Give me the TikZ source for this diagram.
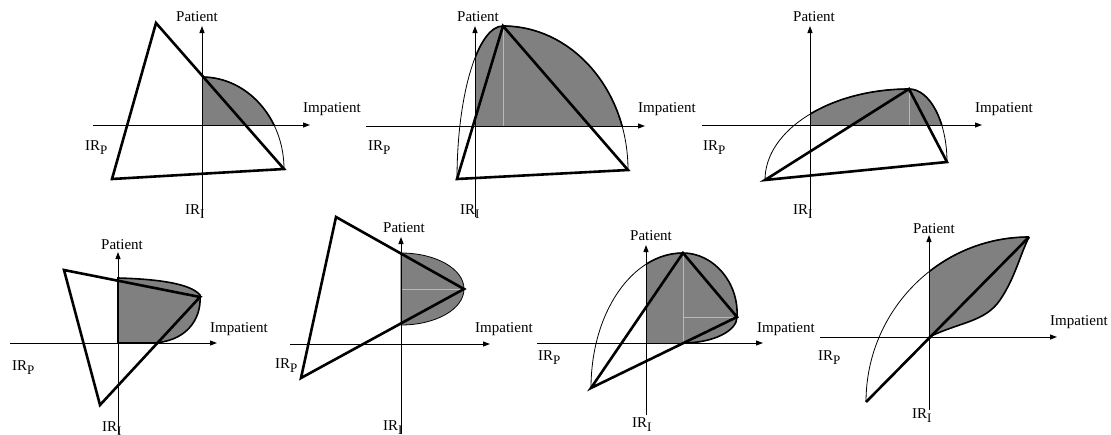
\documentclass[tikz,border=0pt]{standalone}
\usepackage{fontspec}
\setmainfont{Liberation Serif}
\usetikzlibrary{arrows.meta}
\definecolor{shadegray}{RGB}{128,128,128}
\definecolor{guidegray}{RGB}{185,185,185}
\newcommand{\IRsub}[1]{IR\raisebox{-0.3em}{\fontsize{13}{13}\selectfont #1}}
\tikzset{
  axisline/.style={line width=1pt,-{Triangle[length=7pt,width=5pt]}},
  triline/.style={line width=2.6pt,line join=miter},
  edgeline/.style={line width=1.6pt},
  thinline/.style={line width=0.8pt},
  region/.style={fill=shadegray},
  guide/.style={draw=guidegray,line width=0.9pt},
  lbl/.style={font=\fontsize{15}{18}\selectfont,inner sep=0pt}
}
\begin{document}
\begin{tikzpicture}[x=1pt,y=-1pt]
\useasboundingbox (0,0) rectangle (1111,434);

% ================= Panel 1 =================
\coordinate (o1) at (202,125);
\coordinate (x1a) at (93,125); \coordinate (x1b) at (310,125);
\coordinate (y1a) at (202,217); \coordinate (y1b) at (202,26);
\coordinate (t1a) at (156,23); \coordinate (t1b) at (112,179); \coordinate (t1c) at (284,169);
\coordinate (c1) at (202,77);
\begin{scope}
  \clip (o1) rectangle (420,0);
  \fill[region] (202,169) -- (c1) .. controls (247,77) and (284,118) .. (t1c) -- cycle;
  \draw[edgeline] (c1) .. controls (247,77) and (284,118) .. (t1c);
\end{scope}
\draw[thinline] (c1) .. controls (247,77) and (284,118) .. (t1c);
\draw[axisline] (x1a) -- (x1b);
\draw[axisline] (y1a) -- (y1b);
\draw[triline] (t1a) -- (t1b) -- (t1c) -- cycle;
\node[lbl,anchor=base] (p1) at (197,21) {Patient};
\node[lbl,anchor=base west] (i1) at (303,112) {Impatient};
\node[lbl,anchor=base west] (rp1) at (85,150) {\IRsub{P}};
\node[lbl,anchor=base west] (ri1) at (185,214) {\IRsub{I}};

% ================= Panel 2 =================
\coordinate (o2) at (475,126);
\coordinate (x2a) at (366,126); \coordinate (x2b) at (645,126);
\coordinate (y2a) at (475,217); \coordinate (y2b) at (475,26);
\coordinate (t2a) at (503,26); \coordinate (t2b) at (457,179); \coordinate (t2c) at (628,170);
\coordinate (g2) at (503,126);
\begin{scope}
  \clip (o2) rectangle (700,0);
  \fill[region] (t2b) .. controls (457,94) and (478,26) .. (t2a) .. controls (572,26) and (628,90) .. (t2c) -- cycle;
  \draw[guide] (t2a) -- (g2);
  \draw[edgeline] (t2b) .. controls (457,94) and (478,26) .. (t2a) .. controls (572,26) and (628,90) .. (t2c);
\end{scope}
\draw[thinline] (t2b) .. controls (457,94) and (478,26) .. (t2a) .. controls (572,26) and (628,90) .. (t2c);
\draw[axisline] (x2a) -- (x2b);
\draw[axisline] (y2a) -- (y2b);
\draw[triline] (t2a) -- (t2b) -- (t2c) -- cycle;
\node[lbl,anchor=base] (p2) at (478,21) {Patient};
\node[lbl,anchor=base west] (i2) at (638,112) {Impatient};
\node[lbl,anchor=base west] (rp2) at (368,150) {\IRsub{P}};
\node[lbl,anchor=base west] (ri2) at (460,214) {\IRsub{I}};

% ================= Panel 3 =================
\coordinate (o3) at (810,125);
\coordinate (x3a) at (702,125); \coordinate (x3b) at (982,125);
\coordinate (y3a) at (810,217); \coordinate (y3b) at (810,26);
\coordinate (t3a) at (909,89); \coordinate (t3b) at (765,180); \coordinate (t3c) at (947,162);
\coordinate (g3) at (909,125);
\begin{scope}
  \clip (o3) rectangle (1060,0);
  \fill[region] (t3b) .. controls (765,130) and (830,89) .. (t3a) .. controls (930,89) and (947,122) .. (t3c) -- cycle;
  \draw[guide] (t3a) -- (g3);
  \draw[edgeline] (t3b) .. controls (765,130) and (830,89) .. (t3a) .. controls (930,89) and (947,122) .. (t3c);
\end{scope}
\draw[thinline] (t3b) .. controls (765,130) and (830,89) .. (t3a) .. controls (930,89) and (947,122) .. (t3c);
\draw[axisline] (x3a) -- (x3b);
\draw[axisline] (y3a) -- (y3b);
\draw[triline] (t3a) -- (t3b) -- (t3c) -- cycle;
\node[lbl,anchor=base] (p3) at (814,21) {Patient};
\node[lbl,anchor=base west] (i3) at (975,112) {Impatient};
\node[lbl,anchor=base west] (rp3) at (703,150) {\IRsub{P}};
\node[lbl,anchor=base west] (ri3) at (793,214) {\IRsub{I}};

% ================= Panel 4 =================
\coordinate (o4) at (118,343);
\coordinate (x4a) at (10,343); \coordinate (x4b) at (217,343);
\coordinate (y4a) at (118,434); \coordinate (y4b) at (118,252);
\coordinate (t4a) at (64,270); \coordinate (t4b) at (100,405); \coordinate (t4c) at (200,297);
\filldraw[region,edgeline] (o4) -- (118,278) .. controls (155,279) and (190,283) .. (200,295)
   .. controls (202,320) and (185,343) .. (150,343) -- cycle;
\draw[axisline] (x4a) -- (x4b);
\draw[axisline] (y4a) -- (y4b);
\draw[triline] (t4a) -- (t4b) -- (t4c) -- cycle;
\node[lbl,anchor=base] (p4) at (122,249) {Patient};
\node[lbl,anchor=base west] (i4) at (210,332) {Impatient};
\node[lbl,anchor=base west] (rp4) at (12,370) {\IRsub{P}};
\node[lbl,anchor=base west] (ri4) at (102,431) {\IRsub{I}};

% ================= Panel 5 =================
\coordinate (o5) at (401,344);
\coordinate (x5a) at (290,344); \coordinate (x5b) at (490,344);
\coordinate (y5a) at (401,434); \coordinate (y5b) at (401,237);
\coordinate (t5a) at (336,217); \coordinate (t5b) at (301,378); \coordinate (t5c) at (464,289);
\coordinate (g5) at (401,289);
\filldraw[region,thinline] (401,253) .. controls (436,253) and (464,269) .. (t5c)
   .. controls (464,309) and (436,325) .. (401,325) -- cycle;
\draw[guide] (g5) -- (t5c);
\draw[axisline] (x5a) -- (x5b);
\draw[axisline] (y5a) -- (y5b);
\draw[triline] (t5a) -- (t5b) -- (t5c) -- cycle;
\node[lbl,anchor=base] (p5) at (404,232) {Patient};
\node[lbl,anchor=base west] (i5) at (475,332) {Impatient};
\node[lbl,anchor=base west] (rp5) at (275,368) {\IRsub{P}};
\node[lbl,anchor=base west] (ri5) at (383,430) {\IRsub{I}};

% ================= Panel 6 =================
\coordinate (o6) at (646,343);
\coordinate (x6a) at (537,343); \coordinate (x6b) at (763,343);
\coordinate (y6a) at (646,415); \coordinate (y6b) at (646,245);
\coordinate (t6a) at (683,253); \coordinate (t6b) at (737,317); \coordinate (t6c) at (591,388);
\coordinate (g6a) at (683,343); \coordinate (g6b) at (683,317);
\begin{scope}
  \clip (o6) rectangle (820,200);
  \fill[region] (t6c) .. controls (591,313) and (632,253) .. (t6a) .. controls (713,253) and (739,282) .. (t6b)
     .. controls (737,331) and (713,343) .. (g6a) -- cycle;
  \draw[guide] (t6a) -- (g6a);
  \draw[guide] (g6b) -- (t6b);
  \draw[edgeline] (t6c) .. controls (591,313) and (632,253) .. (t6a) .. controls (713,253) and (739,282) .. (t6b)
     .. controls (737,331) and (713,343) .. (g6a);
\end{scope}
\draw[thinline] (t6c) .. controls (591,313) and (632,253) .. (t6a);
\draw[axisline] (x6a) -- (x6b);
\draw[axisline] (y6a) -- (y6b);
\draw[triline] (t6a) -- (t6b) -- (t6c) -- cycle;
\node[lbl,anchor=base] (p6) at (651,240) {Patient};
\node[lbl,anchor=base west] (i6) at (757,332) {Impatient};
\node[lbl,anchor=base west] (rp6) at (538,360) {\IRsub{P}};
\node[lbl,anchor=base west] (ri6) at (632,427) {\IRsub{I}};

% ================= Panel 7 =================
\coordinate (o7) at (929,337);
\coordinate (x7a) at (820,337); \coordinate (x7b) at (1057,337);
\coordinate (y7a) at (929,410); \coordinate (y7b) at (929,235);
\coordinate (t7a) at (866,402); \coordinate (t7b) at (1029,237);
\coordinate (m7) at (1000,300);
\begin{scope}
  \clip (o7 |- 0,0) rectangle (1111,434);
  \fill[region] (t7a) .. controls (866,311) and (939,237) .. (t7b)
     .. controls (1020,255) and (1015,278) .. (m7) .. controls (985,322) and (960,322) .. (o7) -- cycle;
  \draw[edgeline] (t7a) .. controls (866,311) and (939,237) .. (t7b);
\end{scope}
\draw[edgeline] (t7b) .. controls (1020,255) and (1015,278) .. (m7) .. controls (985,322) and (960,322) .. (o7);
\draw[thinline] (t7a) .. controls (866,311) and (939,237) .. (t7b);
\draw[axisline] (x7a) -- (x7b);
\draw[axisline] (y7a) -- (y7b);
\draw[triline] (t7a) -- (t7b);
\node[lbl,anchor=base] (p7) at (934,233) {Patient};
\node[lbl,anchor=base west] (i7) at (1050,325) {Impatient};
\node[lbl,anchor=base west] (rp7) at (818,360) {\IRsub{P}};
\node[lbl,anchor=base west] (ri7) at (912,418) {\IRsub{I}};
\end{tikzpicture}
\end{document}
